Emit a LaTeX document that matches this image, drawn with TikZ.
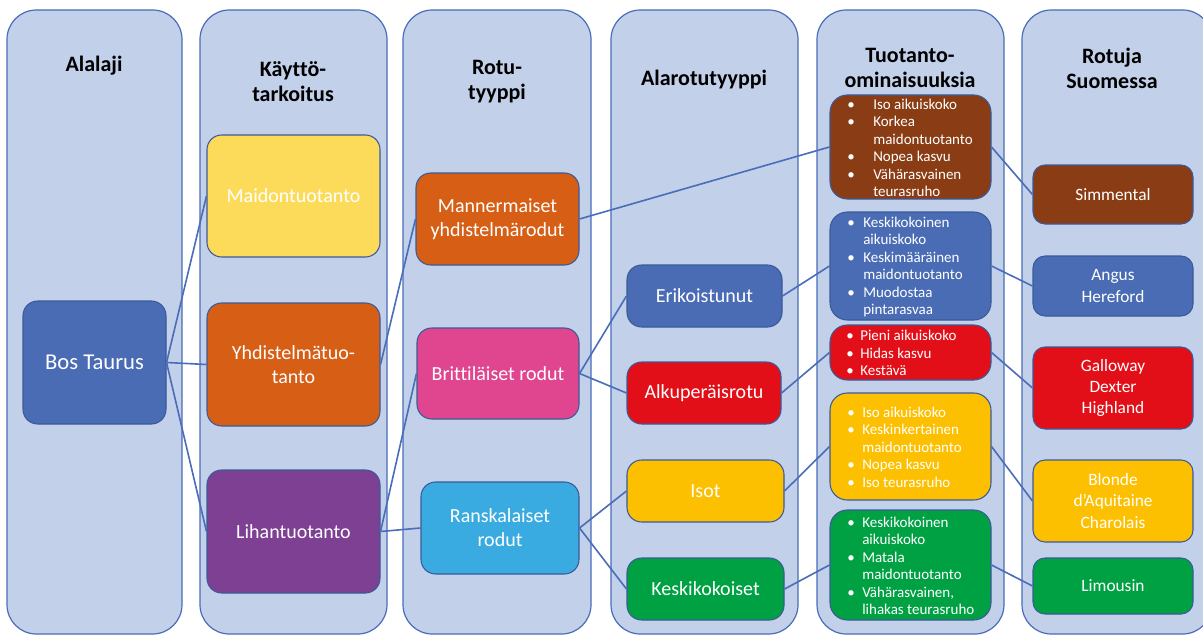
\documentclass[tikz,border=0pt]{standalone}
\usepackage{fontspec}
\setmainfont{Carlito}[Ligatures=NoCommon]
\definecolor{colbg}{HTML}{C2D0EA}
\definecolor{lineblue}{HTML}{4A6DB8}
\definecolor{edgeblue}{HTML}{3A5A9A}
\definecolor{cblue}{HTML}{4A6CB5}
\definecolor{cyellow}{HTML}{FDDB5A}
\definecolor{corange}{HTML}{D65F15}
\definecolor{cpurple}{HTML}{7E4092}
\definecolor{cpink}{HTML}{E0458F}
\definecolor{clight}{HTML}{3AABE0}
\definecolor{cred}{HTML}{E30F18}
\definecolor{cgold}{HTML}{FDC000}
\definecolor{cgreen}{HTML}{00A143}
\definecolor{cbrown}{HTML}{8A3C14}
\newcommand\bx[8][box]{\node[#1, fill=#7, minimum width={(#5-#3)*0.75pt}, minimum height={(#6-#4)*0.75pt}] (#2) at ({(#3+#5)/2},{(#4+#6)/2}) {#8};}
\newlength\bw
\newcommand\fb[1]{\makebox[\bw][l]{\textbullet}#1}
\newcommand\fc[1]{\hspace*{\bw}#1}
\begin{document}
\begin{tikzpicture}[x=0.75pt,y=-0.75pt,
  col/.style={draw=lineblue, line width=0.9pt, rounded corners=22pt, inner sep=0pt},
  box/.style={draw=edgeblue, line width=0.8pt, rounded corners=11pt, text=white,
    font=\fontsize{15}{18}\selectfont, align=center, inner sep=0pt},
  bigbox/.style={box, font=\fontsize{17}{20}\selectfont},
  featbox/.style={box, rounded corners=13pt},
  feattext/.style={text=white, font=\fontsize{11.25}{13.1}\selectfont, align=left, inner sep=0pt, anchor=west},
  breed/.style={box, rounded corners=9pt, font=\fontsize{13}{16.1}\selectfont},
  head/.style={font=\bfseries\fontsize{16.5}{18.75}\selectfont, align=center, text=black, inner sep=0pt},
  conn/.style={draw=lineblue, line width=1.2pt}]
\useasboundingbox (0,0) rectangle (1203,635);
\fill[white] (0,0) rectangle (1203,635);
% columns
\bx[col]{col1}{7}{10}{182}{634}{colbg}{}
\bx[col]{col2}{200}{10}{387}{634}{colbg}{}
\bx[col]{col3}{403}{10}{591}{634}{colbg}{}
\bx[col]{col4}{611}{10}{798}{634}{colbg}{}
\bx[col]{col5}{817}{10}{1004}{634}{colbg}{}
\bx[col]{col6}{1022}{10}{1212}{634}{colbg}{}
% headers
\node[head] (h1) at (94,66) {Alalaji};
\node[head] (h2) at (293,82) {Käyttö-\\tarkoitus};
\node[head] (h3) at (497,82) {Rotu-\\tyyppi};
\node[head] (h4) at (704,80) {Alarotutyyppi};
\node[head] (h5) at (910,68) {Tuotanto-\\ominaisuuksia};
\node[head] (h6) at (1112,68) {Rotuja\\Suomessa};
% column 1-2
\bx[bigbox]{bos}{23}{301}{166}{424}{cblue}{Bos Taurus}
\bx{maito}{207}{135}{380}{257}{cyellow}{Maidontuotanto}
\bx{yhd}{207}{303}{380}{426}{corange}{Yhdistelmätuo-\\tanto}
\bx{liha}{207}{470}{380}{593}{cpurple}{Lihantuotanto}
% column 3
\bx{mann}{416}{173}{579}{265}{corange}{Mannermaiset\\yhdistelmärodut}
\bx{brit}{417}{328}{579}{419}{cpink}{Brittiläiset rodut}
\bx{rans}{421}{482}{579}{574}{clight}{Ranskalaiset\\rodut}
% column 4
\bx{erik}{627}{265}{782}{327}{cblue}{Erikoistunut}
\bx{alku}{627}{362}{781}{424}{cred}{Alkuperäisrotu}
\bx{isot}{627}{460}{784}{522}{cgold}{Isot}
\bx{kesk}{627}{558}{784}{620}{cgreen}{Keskikokoiset}
% column 5
\bx[featbox]{fbrown}{830}{95}{991}{199}{cbrown}{}
\bx[featbox]{fblue}{830}{212}{991}{320}{cblue}{}
\bx[featbox]{fred}{830}{325}{991}{380}{cred}{}
\bx[featbox]{fyel}{830}{393}{991}{500}{cgold}{}
\bx[featbox]{fgreen}{830}{510}{991}{620}{cgreen}{}
\setlength\bw{19.5pt}
\node[feattext] (tbrown) at (847,148) {\fb{Iso aikuiskoko}\\\fb{Korkea}\\\fc{maidontuotanto}\\\fb{Nopea kasvu}\\\fb{Vähärasvainen}\\\fc{teurasruho}};
\setlength\bw{12pt}
\node[feattext] (tblue) at (847,267) {\fb{Keskikokoinen}\\\fc{aikuiskoko}\\\fb{Keskimääräinen}\\\fc{maidontuotanto}\\\fb{Muodostaa}\\\fc{pintarasvaa}};
\setlength\bw{10.5pt}
\node[feattext] (tred) at (846,353) {\fb{Pieni aikuiskoko}\\\fb{Hidas kasvu}\\\fb{Kestävä}};
\setlength\bw{11.25pt}
\node[feattext] (tyel) at (847,447) {\fb{Iso aikuiskoko}\\\fb{Keskinkertainen}\\\fc{maidontuotanto}\\\fb{Nopea kasvu}\\\fb{Iso teurasruho}};
\node[feattext] (tgreen) at (847,566) {\fb{Keskikokoinen}\\\fc{aikuiskoko}\\\fb{Matala}\\\fc{maidontuotanto}\\\fb{Vähärasvainen,}\\\fc{lihakas teurasruho}};
% column 6
\bx[breed]{simm}{1033}{165}{1193}{224}{cbrown}{Simmental}
\bx[breed]{angus}{1033}{256}{1193}{316}{cblue}{Angus\\Hereford}
\bx[breed]{gall}{1033}{347}{1193}{429}{cred}{Galloway\\Dexter\\Highland}
\bx[breed]{blonde}{1033}{460}{1193}{542}{cgold}{Blonde\\d’Aquitaine\\Charolais}
\bx[breed]{limo}{1033}{558}{1193}{614}{cgreen}{Limousin}
% connectors
\draw[conn] (bos.east) -- (maito.west);
\draw[conn] (bos.east) -- (yhd.west);
\draw[conn] (bos.east) -- (liha.west);
\draw[conn] (yhd.east) -- (mann.west);
\draw[conn] (liha.east) -- (brit.west);
\draw[conn] (liha.east) -- (rans.west);
\draw[conn] (mann.east) -- (fbrown.west);
\draw[conn] (brit.east) -- (erik.west);
\draw[conn] (brit.east) -- (alku.west);
\draw[conn] (rans.east) -- (isot.west);
\draw[conn] (rans.east) -- (kesk.west);
\draw[conn] (erik.east) -- (fblue.west);
\draw[conn] (alku.east) -- (fred.west);
\draw[conn] (isot.east) -- (fyel.west);
\draw[conn] (kesk.east) -- (fgreen.west);
\draw[conn] (fbrown.east) -- (simm.west);
\draw[conn] (fblue.east) -- (angus.west);
\draw[conn] (fred.east) -- (gall.west);
\draw[conn] (fyel.east) -- (blonde.west);
\draw[conn] (fgreen.east) -- (limo.west);
\end{tikzpicture}
\end{document}
